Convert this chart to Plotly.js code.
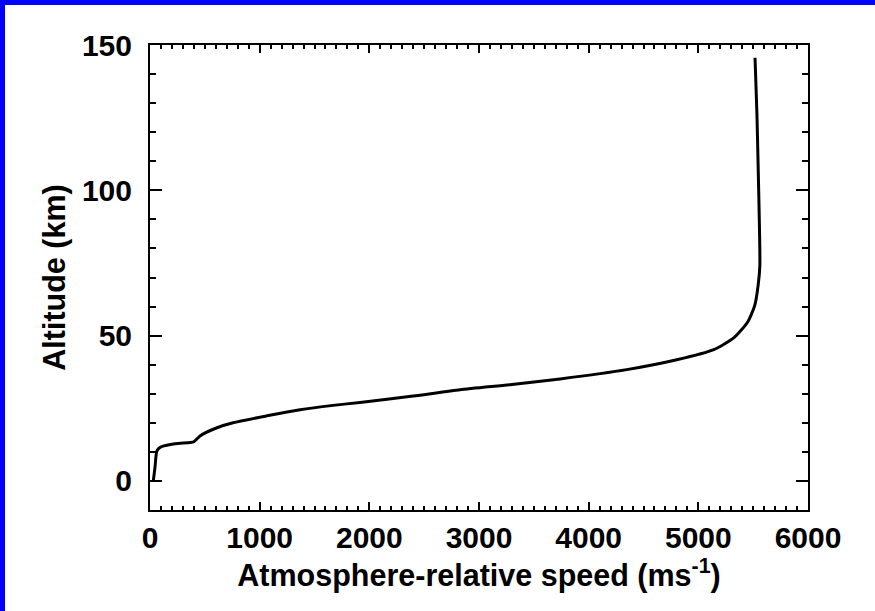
<!DOCTYPE html>
<html>
<head>
<meta charset="utf-8">
<script src="https://cdn.plot.ly/plotly-3.0.1.min.js"></script>
<style>
  html, body { margin: 0; padding: 0; background: #ffffff; overflow: hidden; width: 875px; height: 611px; }
  #barLeft { position: absolute; left: 0; top: 0; width: 5px; height: 611px; background: #0000ff; }
  #barTop { position: absolute; left: 0; top: 0; width: 875px; height: 5px; background: #0000ff; }
  #chart { position: absolute; left: 5px; top: 5px; width: 870px; height: 606px; }
</style>
</head>
<body>
<div id="chart"></div>
<div id="barLeft"></div>
<div id="barTop"></div>
<script>
// Atmosphere-relative speed (m/s)
const speed = [30, 45, 61, 80, 106, 228, 365, 400, 456, 611, 757, 1067, 1368, 1669, 1915, 2400, 2827, 3300, 3739, 4347, 4803, 5141, 5325, 5447, 5514, 5545, 5561, 5558, 5545, 5534, 5517];
// Altitude (km)
const altitude = [0, 4.5, 10.1, 11.2, 11.8, 12.8, 13.2, 13.5, 15.5, 18.3, 20.0, 22.4, 24.5, 26.0, 27.0, 29.2, 31.4, 33.2, 35.1, 38.3, 41.7, 45.2, 49.3, 54.5, 60.3, 67.2, 74.1, 85.9, 109.0, 126.6, 145.6];

const xTickVals = [0, 1000, 2000, 3000, 4000, 5000, 6000];
const yTickVals = [0, 50, 100, 150];

const FONT = 'Liberation Sans, Arial, sans-serif';

const trace = {
  x: speed,
  y: altitude,
  type: 'scatter',
  mode: 'lines',
  line: { color: '#000000', width: 3, shape: 'spline', smoothing: 0.6 },
  hoverinfo: 'skip'
};

const layout = {
  width: 870,
  height: 606,
  margin: { l: 145, r: 67, t: 40, b: 101 },
  paper_bgcolor: '#ffffff',
  plot_bgcolor: '#ffffff',
  showlegend: false,
  font: { family: FONT, color: '#000000', weight: 'bold' },
  xaxis: {
    range: [0, 6000],
    tickvals: xTickVals,
    ticktext: xTickVals.map(String),
    ticks: 'inside',
    ticklen: 8,
    tickwidth: 2,
    tickcolor: '#000000',
    minor: { dtick: 100, ticks: 'inside', ticklen: 4, tickwidth: 2, tickcolor: '#000000', showgrid: false },
    showline: true,
    linecolor: '#000000',
    linewidth: 2,
    mirror: 'ticks',
    showgrid: false,
    zeroline: false,
    tickfont: { family: FONT, size: 30, color: '#000000', weight: 'bold' },
    ticklabelstandoff: 0,
    title: {
      text: 'Atmosphere-relative speed (ms<sup>-1</sup>)',
      font: { family: FONT, size: 30.5, color: '#000000', weight: 'bold' },
      standoff: 0
    }
  },
  yaxis: {
    range: [-10, 150],
    tickvals: yTickVals,
    ticktext: yTickVals.map(String),
    ticks: 'inside',
    ticklen: 12,
    tickwidth: 2,
    tickcolor: '#000000',
    minor: { dtick: 10, ticks: 'inside', ticklen: 6, tickwidth: 2, tickcolor: '#000000', showgrid: false },
    showline: true,
    linecolor: '#000000',
    linewidth: 2,
    mirror: 'ticks',
    showgrid: false,
    zeroline: false,
    tickfont: { family: FONT, size: 30, color: '#000000', weight: 'bold' },
    ticklabelstandoff: 10,
    title: {
      text: 'Altitude (km)',
      font: { family: FONT, size: 30.5, color: '#000000', weight: 'bold' },
      standoff: 7
    }
  }
};

Plotly.newPlot('chart', [trace], layout, { displayModeBar: false, staticPlot: true });
</script>
</body>
</html>
